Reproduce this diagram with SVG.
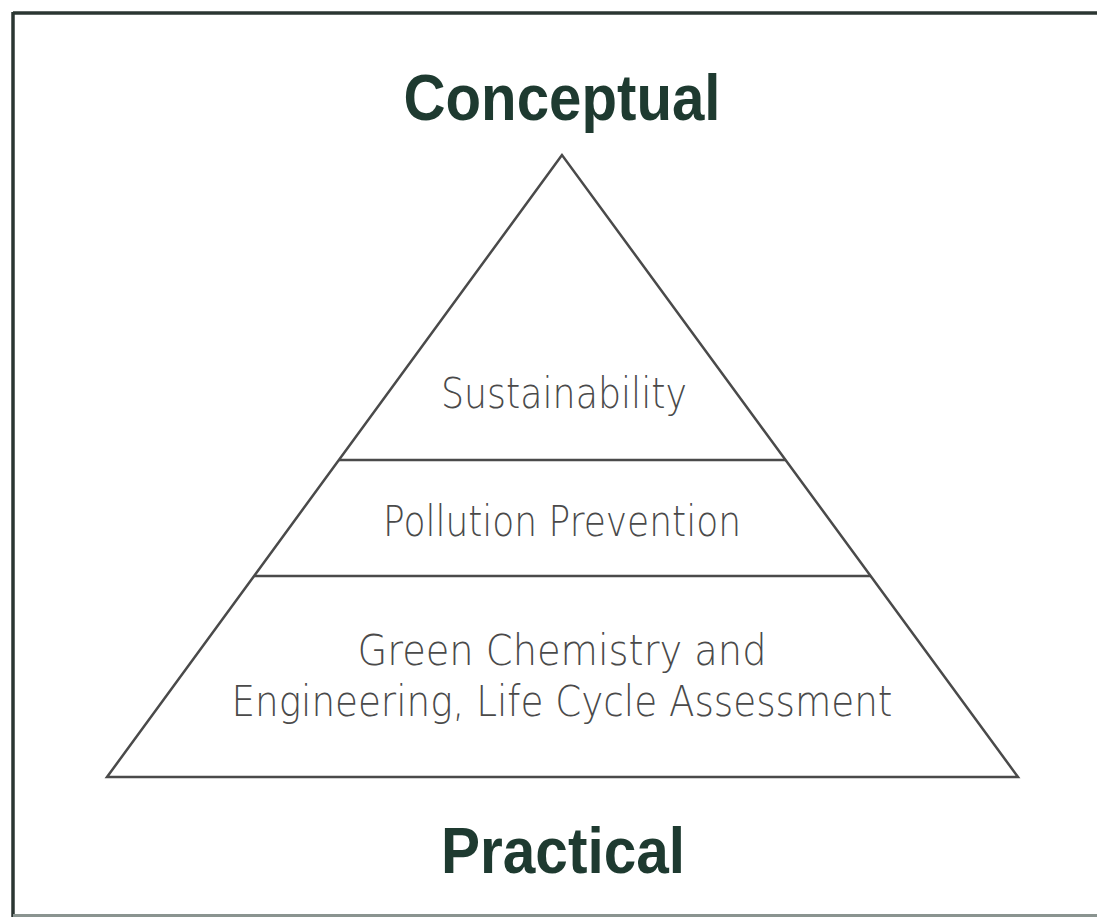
<svg xmlns="http://www.w3.org/2000/svg" width="1097" height="917" viewBox="0 0 1097 917">
<style>
.title{font-family:"Liberation Sans",Arial,sans-serif;font-weight:bold;font-size:65px;fill:#1e3a30;text-anchor:middle}
.lbl{font-family:"DejaVu Sans","Liberation Sans",sans-serif;font-weight:200;font-size:43px;fill:#4a4a4a;text-anchor:middle}
.ln{stroke:#4a4a4a;stroke-width:2.5;fill:none}
</style>
<rect width="1097" height="917" fill="#ffffff"/>
<g id="frame">
<line x1="13" y1="13" x2="1097" y2="13" stroke="#2b3632" stroke-width="3.5"/>
<line x1="13" y1="12" x2="13" y2="917" stroke="#2b3632" stroke-width="3.5"/>
<line x1="13" y1="915.5" x2="1097" y2="915.5" stroke="#8a9490" stroke-width="3"/>
</g>
<g id="pyramid">
<polygon class="ln" points="562,155 107,777 1018,777"/>
<line class="ln" x1="339" y1="460" x2="786" y2="460"/>
<line class="ln" x1="254" y1="576" x2="871" y2="576"/>
</g>
<g id="conceptual"><text class="title" x="562" y="120" textLength="317" lengthAdjust="spacingAndGlyphs">Conceptual</text></g>
<g id="sustainability"><text class="lbl" x="564" y="408" textLength="246" lengthAdjust="spacingAndGlyphs">Sustainability</text></g>
<g id="pollution"><text class="lbl" x="562" y="536" textLength="358" lengthAdjust="spacingAndGlyphs">Pollution Prevention</text></g>
<g id="green">
<text class="lbl" x="562" y="665" textLength="409" lengthAdjust="spacingAndGlyphs">Green Chemistry and</text>
<text class="lbl" x="562" y="716" textLength="661" lengthAdjust="spacingAndGlyphs">Engineering, Life Cycle Assessment</text>
</g>
<g id="practical"><text class="title" x="563" y="873" textLength="244" lengthAdjust="spacingAndGlyphs">Practical</text></g>
</svg>
